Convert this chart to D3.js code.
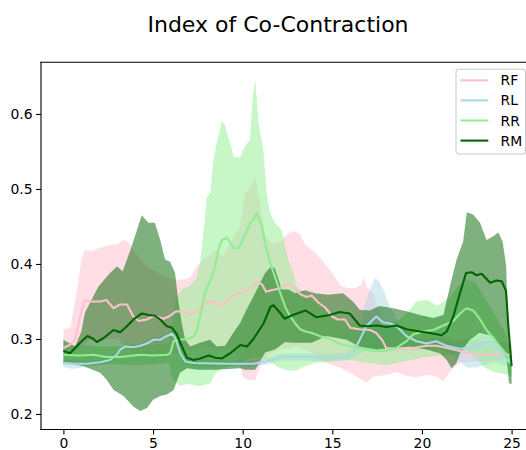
<!DOCTYPE html>
<html>
<head>
<meta charset="utf-8">
<script src="https://cdn.jsdelivr.net/npm/d3@7"></script>
<style>
  html, body { margin: 0; padding: 0; background: #fff; }
  svg { display: block; font-family: "DejaVu Sans", sans-serif; }
</style>
</head>
<body>
<svg id="chart" width="526" height="450"></svg>
<script>
// ---- data -------------------------------------------------------------
const chartTitle = "Index of Co-Contraction";
const seriesNames = ["RF", "RL", "RR", "RM"];
const xTickValues = [0, 5, 10, 15, 20, 25];
const yTickValues = [0.2, 0.3, 0.4, 0.5, 0.6];

// each series: mean curve and the upper / lower edges of its band, as [time, index]
const rfMean = [[0,.288],[0.35,.292],[0.65,.299],[0.93,.330],[1.2,.352],[1.5,.350],[2.05,.350],[2.4,.352],[2.8,.341],[3.15,.346],[3.55,.346],[3.9,.330],[4.2,.324],[4.65,.326],[5.05,.331],[5.6,.327],[5.95,.331],[6.3,.337],[6.7,.336],[7.1,.333],[7.45,.337],[8.0,.348],[8.4,.350],[8.75,.344],[9.1,.351],[9.5,.359],[10.05,.362],[10.45,.368],[10.8,.377],[11.1,.372],[11.3,.363],[11.6,.365],[12.0,.367],[12.55,.374],[12.9,.367],[13.2,.360],[13.55,.356],[13.85,.358],[14.2,.349],[14.6,.342],[15.0,.330],[15.3,.326],[15.7,.326],[16.0,.315],[16.5,.313],[17.1,.312],[17.45,.308],[17.8,.298],[18.0,.288],[18.75,.287],[19.5,.288],[20.25,.291],[20.8,.291],[21.4,.288],[22.1,.284],[23.0,.279],[25,.279]];
const rfHigh = [[0,.312],[0.4,.316],[0.85,.379],[1.0,.405],[1.2,.419],[1.6,.417],[1.95,.421],[2.5,.425],[3.0,.426],[3.35,.432],[3.6,.430],[4.5,.40],[5.5,.385],[6.3,.379],[6.9,.380],[7.1,.383],[7.45,.397],[7.8,.406],[8.2,.412],[8.55,.419],[8.9,.41],[9.3,.428],[9.85,.45],[10.13,.494],[10.41,.503],[10.7,.516],[10.97,.482],[11.25,.437],[11.55,.428],[12.1,.43],[12.55,.441],[12.83,.444],[13.2,.44],[13.5,.425],[13.85,.419],[14.4,.406],[15.0,.388],[15.5,.370],[15.9,.368],[16.3,.368],[16.6,.372],[16.75,.383],[16.9,.37],[17.3,.36],[17.6,.335],[18.0,.315],[19.0,.31],[20.0,.31],[21.0,.305],[22.0,.30],[25,.295]];
const rfLow = [[0,.280],[0.5,.282],[1.0,.29],[1.5,.30],[3.0,.30],[4.0,.28],[6.0,.28],[8.0,.29],[9.5,.285],[9.8,.27],[10.0,.25],[10.3,.245],[10.7,.245],[11.0,.265],[11.5,.28],[12.0,.285],[13.0,.29],[14.0,.28],[14.66,.268],[15.4,.262],[16.0,.255],[16.5,.248],[16.9,.242],[17.3,.25],[18.0,.252],[18.6,.256],[19.1,.251],[19.7,.249],[20.3,.252],[20.8,.25],[21.2,.244],[21.6,.258],[22.1,.268],[23.0,.27],[24.0,.272],[25,.272]];

const rlMean = [[0,.268],[0.6,.267],[1.3,.267],[2.05,.269],[2.6,.272],[2.98,.279],[3.17,.286],[3.45,.290],[3.9,.289],[4.3,.291],[4.66,.294],[5.03,.299],[5.4,.299],[5.77,.304],[6.05,.307],[6.24,.301],[6.52,.281],[6.8,.270],[7.26,.268],[9.0,.267],[10.6,.267],[11.3,.270],[12.2,.276],[13.7,.276],[14.66,.275],[15.8,.277],[16.15,.281],[16.53,.299],[16.9,.317],[17.27,.326],[17.46,.330],[17.83,.322],[18.2,.321],[18.58,.317],[19.13,.304],[19.7,.297],[20.25,.294],[20.8,.297],[21.37,.291],[22.1,.287],[22.86,.289],[23.4,.294],[23.8,.297],[24.17,.290],[24.53,.278],[25,.266]];
const rlHigh = [[0,.273],[0.5,.272],[1.3,.271],[2.05,.273],[2.6,.276],[3.0,.283],[3.2,.290],[3.45,.294],[3.9,.293],[4.3,.295],[4.66,.298],[5.03,.303],[5.4,.303],[5.77,.308],[6.05,.311],[6.24,.305],[6.52,.285],[6.8,.274],[7.26,.272],[10.6,.271],[11.3,.275],[12.2,.281],[13.7,.281],[14.66,.280],[15.8,.282],[16.15,.288],[16.5,.31],[16.8,.345],[17.1,.366],[17.38,.381],[17.57,.378],[17.85,.366],[18.2,.343],[18.4,.335],[18.8,.318],[19.5,.303],[20.25,.30],[20.8,.302],[21.37,.297],[22.0,.296],[22.5,.30],[23.0,.305],[23.5,.306],[24.0,.304],[24.5,.29],[25,.27]];
const rlLow = [[0,.263],[0.5,.260],[1.0,.262],[1.3,.263],[2.05,.265],[2.6,.268],[3.0,.275],[3.2,.282],[3.45,.286],[3.9,.285],[4.3,.287],[4.66,.290],[5.03,.295],[5.4,.295],[5.77,.300],[6.05,.303],[6.24,.297],[6.52,.277],[6.8,.266],[7.26,.264],[10.6,.263],[11.3,.266],[12.2,.271],[13.7,.271],[14.66,.270],[15.8,.272],[16.15,.275],[16.5,.28],[17.0,.285],[17.5,.287],[18.0,.285],[18.5,.284],[19.1,.285],[19.7,.285],[20.25,.286],[20.8,.29],[21.37,.284],[22.0,.272],[22.5,.262],[23.0,.262],[23.5,.265],[24.0,.27],[24.5,.265],[25,.262]];

const rrMean = [[0,.279],[0.9,.278],[1.7,.279],[2.4,.276],[3.2,.276],[3.9,.278],[4.3,.279],[5.0,.278],[5.77,.279],[5.96,.281],[6.15,.297],[6.5,.299],[6.9,.300],[7.25,.303],[7.45,.312],[7.64,.332],[7.9,.362],[8.18,.377],[8.46,.397],[8.65,.419],[8.84,.432],[9.12,.435],[9.5,.421],[9.8,.422],[10.2,.442],[10.45,.456],[10.6,.459],[10.78,.468],[11.06,.452],[11.25,.428],[11.53,.401],[11.8,.383],[12.1,.361],[12.37,.343],[12.65,.330],[12.92,.321],[13.2,.313],[13.5,.310],[13.85,.308],[14.3,.304],[14.85,.300],[15.6,.292],[16.53,.288],[17.27,.284],[18.02,.284],[18.58,.288],[19.14,.297],[19.5,.306],[20.07,.310],[20.63,.312],[21.2,.318],[21.75,.324],[22.12,.334],[22.48,.341],[22.86,.338],[23.24,.326],[23.6,.312],[23.98,.301],[24.35,.290],[24.72,.279],[25,.268]];
const rrHigh = [[0,.292],[1,.292],[2,.29],[3,.29],[4,.292],[5,.292],[5.9,.295],[6.1,.33],[6.3,.355],[6.6,.366],[7.0,.37],[7.4,.38],[7.62,.40],[7.8,.44],[8.0,.488],[8.2,.495],[8.37,.539],[8.55,.561],[8.84,.590],[9.0,.585],[9.3,.561],[9.5,.543],[9.85,.542],[10.13,.557],[10.41,.566],[10.55,.62],[10.7,.646],[10.88,.588],[11.15,.552],[11.34,.495],[11.53,.468],[11.8,.455],[12.18,.445],[12.55,.405],[12.83,.388],[13.0,.37],[13.5,.36],[14,.35],[15,.335],[16,.322],[17,.315],[18,.315],[19,.33],[19.7,.350],[20.27,.352],[20.8,.345],[21.0,.346],[21.5,.355],[22,.37],[22.5,.38],[23,.375],[23.5,.355],[24,.335],[24.5,.315],[25,.29]];
const rrLow = [[0,.266],[1,.265],[2,.266],[3,.266],[4,.265],[5,.266],[5.9,.268],[6.1,.245],[6.5,.238],[7.0,.24],[7.6,.237],[8.2,.241],[8.5,.255],[9.0,.262],[9.5,.265],[10,.27],[10.5,.275],[11,.275],[11.5,.27],[12,.262],[12.5,.258],[13,.258],[13.3,.262],[14,.268],[15,.27],[16,.272],[17,.268],[18,.265],[19,.27],[20,.275],[21,.278],[22,.28],[22.5,.285],[23,.275],[23.5,.262],[24,.256],[24.5,.254],[25,.25]];

const rmMean = [[0,.284],[0.37,.281],[0.93,.295],[1.34,.304],[1.68,.300],[1.86,.296],[2.23,.301],[2.79,.312],[3.17,.309],[3.54,.317],[3.91,.326],[4.38,.334],[4.75,.332],[5.12,.331],[5.4,.326],[5.77,.317],[6.05,.315],[6.33,.306],[6.61,.290],[6.89,.275],[7.26,.272],[7.64,.274],[8.1,.278],[8.47,.275],[8.85,.274],[9.31,.281],[9.87,.292],[10.24,.290],[10.6,.300],[11.17,.321],[11.55,.343],[11.71,.345],[12.05,.336],[12.33,.327],[12.8,.332],[13.5,.338],[14.1,.329],[14.85,.332],[15.41,.336],[15.97,.334],[16.53,.318],[16.9,.317],[17.47,.318],[18.02,.316],[18.58,.318],[19.14,.313],[19.89,.310],[20.45,.308],[21.1,.305],[21.38,.310],[21.75,.330],[22.12,.361],[22.46,.388],[22.77,.389],[23.05,.385],[23.33,.387],[23.8,.375],[24.17,.378],[24.45,.377],[24.69,.364],[24.82,.317],[25,.264]];
const rmHigh = [[0,.299],[0.65,.290],[1.0,.31],[1.2,.335],[1.95,.370],[2.6,.388],[3.0,.397],[3.3,.39],[3.8,.423],[4.1,.445],[4.37,.465],[4.74,.455],[5.1,.455],[5.4,.432],[5.67,.406],[5.95,.403],[6.23,.388],[6.4,.352],[6.6,.321],[6.79,.299],[7.07,.290],[7.62,.295],[8.18,.299],[8.55,.290],[9.02,.291],[9.47,.308],[9.85,.321],[10.13,.335],[10.69,.361],[11.25,.388],[11.6,.397],[11.8,.394],[12.18,.366],[12.55,.366],[12.92,.361],[13.48,.365],[14.04,.361],[14.78,.359],[15.6,.361],[16.15,.350],[16.53,.339],[17.08,.338],[17.64,.344],[18.39,.341],[19.14,.337],[19.89,.332],[20.63,.328],[21.2,.332],[21.56,.370],[21.93,.406],[22.3,.430],[22.5,.469],[22.85,.466],[23.24,.455],[23.6,.432],[23.98,.437],[24.26,.442],[24.5,.430],[24.7,.397],[24.82,.299],[25,.268]];
const rmLow = [[0,.268],[1.1,.264],[2.05,.255],[2.4,.246],[2.8,.232],[3.35,.224],[3.9,.210],[4.28,.204],[4.66,.208],[5.0,.219],[5.4,.224],[5.77,.226],[6.15,.232],[6.5,.255],[6.9,.261],[7.5,.259],[8.5,.259],[9.87,.261],[10.13,.259],[10.7,.259],[11.25,.282],[11.8,.286],[12.37,.296],[12.8,.295],[13.85,.295],[14.66,.304],[15.8,.299],[16.5,.290],[17.47,.286],[18.39,.288],[19.33,.290],[20.26,.286],[21.0,.281],[21.38,.272],[21.65,.261],[21.93,.268],[22.12,.281],[22.67,.299],[23.2,.308],[23.98,.304],[24.5,.286],[24.75,.27],[24.85,.241],[25,.240]];

const seriesMeans = [rfMean, rlMean, rrMean, rmMean];
const seriesHighs = [rfHigh, rlHigh, rrHigh, rmHigh];
const seriesLows  = [rfLow, rlLow, rrLow, rmLow];

// ---- styling ----------------------------------------------------------
const seriesColors = ["pink", "lightblue", "lightgreen", "darkgreen"];
const bandOpacity = 0.5;

// ---- layout -----------------------------------------------------------
const svg = d3.select("#chart");
const plot = { left: 41, right: 534, top: 62.3, bottom: 429.5 };

const x = d3.scaleLinear().domain([-1.25, 26.25]).range([plot.left, plot.right]);
const y = d3.scaleLinear().domain([0.1793, 0.6689]).range([plot.bottom, plot.top]);

svg.append("defs").append("clipPath").attr("id", "plotClip")
  .append("rect")
  .attr("x", plot.left).attr("y", plot.top)
  .attr("width", plot.right - plot.left).attr("height", plot.bottom - plot.top);

const layer = svg.append("g").attr("clip-path", "url(#plotClip)");

const edge = d3.line().x(d => x(d[0])).y(d => y(d[1]));

// bands first (all below the mean curves)
seriesNames.forEach((name, i) => {
  const outline = seriesHighs[i].concat(seriesLows[i].slice().reverse());
  layer.append("path")
    .attr("d", edge(outline) + "Z")
    .attr("fill", seriesColors[i])
    .attr("fill-opacity", bandOpacity)
    .attr("stroke", "none");
});

// mean curves
seriesNames.forEach((name, i) => {
  layer.append("path")
    .attr("d", edge(seriesMeans[i]))
    .attr("fill", "none")
    .attr("stroke", seriesColors[i])
    .attr("stroke-width", 2.1)
    .attr("stroke-linejoin", "round")
    .attr("stroke-linecap", "butt");
});

// ---- axes -------------------------------------------------------------
const xAxis = d3.axisBottom(x).tickValues(xTickValues).tickSize(4.9).tickPadding(3.5)
  .tickFormat(d3.format("d"));
const yAxis = d3.axisLeft(y).tickValues(yTickValues).tickSize(4.9).tickPadding(3.5)
  .tickFormat(d3.format(".1f"));

const gx = svg.append("g").attr("transform", `translate(0,${plot.bottom})`).call(xAxis);
const gy = svg.append("g").attr("transform", `translate(${plot.left},0)`).call(yAxis);

[gx, gy].forEach(g => {
  g.select(".domain").remove();
  g.selectAll(".tick line").attr("stroke", "#000").attr("stroke-width", 1.1);
  g.selectAll(".tick text")
    .attr("fill", "#000")
    .style("font-family", "'DejaVu Sans', sans-serif")
    .style("font-size", "13.9px");
});
gx.selectAll(".tick text").attr("dy", null).attr("y", 18.3);
gy.selectAll(".tick text").attr("dy", "0.36em");

// spines
const spines = svg.append("g").attr("stroke", "#000").attr("stroke-width", 1.1)
  .attr("stroke-linecap", "square");
spines.append("line").attr("x1", plot.left).attr("x2", plot.left)
  .attr("y1", plot.top).attr("y2", plot.bottom);
spines.append("line").attr("x1", plot.left).attr("x2", plot.right)
  .attr("y1", plot.bottom).attr("y2", plot.bottom);
spines.append("line").attr("x1", plot.left).attr("x2", plot.right)
  .attr("y1", plot.top).attr("y2", plot.top);
spines.append("line").attr("x1", plot.right).attr("x2", plot.right)
  .attr("y1", plot.top).attr("y2", plot.bottom);

// ---- title ------------------------------------------------------------
svg.append("text")
  .attr("x", 278).attr("y", 31.5)
  .attr("text-anchor", "middle")
  .style("font-family", "'DejaVu Sans', sans-serif")
  .style("font-size", "22px")
  .attr("fill", "#000")
  .text(chartTitle);

// ---- legend -----------------------------------------------------------
const legend = svg.append("g").attr("transform", "translate(456,69.3)");
legend.append("rect")
  .attr("x", 0).attr("y", 0).attr("width", 69.5).attr("height", 84.7)
  .attr("rx", 2.8).attr("ry", 2.8)
  .attr("fill", "#fff").attr("fill-opacity", 0.8)
  .attr("stroke", "#cccccc").attr("stroke-width", 1.1);

seriesNames.forEach((name, i) => {
  const row = legend.append("g").attr("transform", `translate(0,${11 + i * 20.1})`);
  row.append("line")
    .attr("x1", 4.5).attr("x2", 32.3).attr("y1", 0).attr("y2", 0)
    .attr("stroke", seriesColors[i]).attr("stroke-width", 2.1);
  row.append("text")
    .attr("x", 44.5).attr("y", 0).attr("dy", "0.36em")
    .style("font-family", "'DejaVu Sans', sans-serif")
    .style("font-size", "13.9px")
    .attr("fill", "#000")
    .text(name);
});
</script>
</body>
</html>
